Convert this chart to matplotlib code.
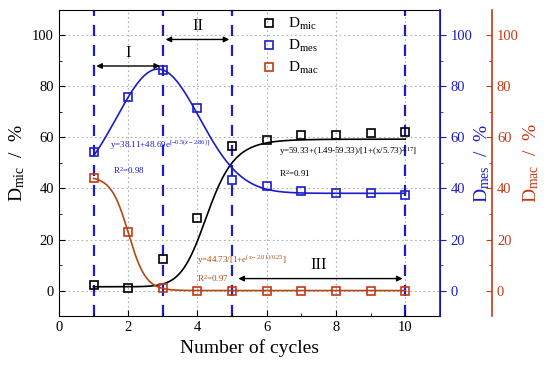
import numpy as np
import matplotlib
matplotlib.use("Agg")
import matplotlib.pyplot as plt

plt.rcParams['font.family'] = ['Liberation Serif', 'DejaVu Serif']
plt.rcParams['mathtext.fontset'] = 'custom'
plt.rcParams['mathtext.rm'] = 'Liberation Serif'
plt.rcParams['mathtext.it'] = 'Liberation Serif:italic'

# measured points
cycles = [1, 2, 3, 4, 5, 6, 7, 8, 9, 10]
d_mic = [2.0, 1.2, 12.2, 28.3, 56.7, 59.0, 61.0, 61.0, 61.8, 62.3]
d_mes = [54.3, 76.0, 86.6, 71.7, 43.3, 41.0, 39.0, 38.2, 38.2, 37.5]
d_mac = [44.0, 23.0, 1.0, 0.0, 0.0, 0.0, 0.0, 0.0, 0.0, 0.0]

# fitted curve parameters (as drawn)
mes_fit = [38.11, 48.69, 2.86, 1.2]      # base, amp, centre, width (gauss)
mic_fit = [1.49, 59.33, 4.3, 11.0]       # A1, A2, x0, p (hill)
mac_fit = [44.73, 2.01, 0.25]            # A, x0, dx (logistic)

stage_lines = [1, 3, 5, 10]

BLUE = '#1c1cc8'
RED = '#c23a18'
BROWN = '#b04a14'

fig = plt.figure(figsize=(5.5, 3.79), dpi=100)
ax = fig.add_axes([0.107, 0.166, 0.693, 0.808])
ax2 = ax.twinx()
ax3 = ax.twinx()
# outward offset is in points: 52 px at 100 dpi
ax3.spines['right'].set_position(('outward', 37.5))

xs = np.linspace(1, 10, 400)
y_mes = mes_fit[0] + mes_fit[1] * np.exp(-0.5 * ((xs - mes_fit[2]) / mes_fit[3]) ** 2)
y_mic = mic_fit[1] + (mic_fit[0] - mic_fit[1]) / (1 + (xs / mic_fit[2]) ** mic_fit[3])
y_mac = mac_fit[0] / (1 + np.exp((xs - mac_fit[1]) / mac_fit[2]))

for a in (ax, ax2, ax3):
    a.set_ylim(-10, 110)
ax.set_xlim(0, 11)

# grid
for gx in [2, 4, 6, 8, 10]:
    ax.axvline(gx, color='#b0b0b0', ls=(0, (1.5, 2.5)), lw=0.8, zorder=0)
for gy in [0, 20, 40, 60, 80, 100]:
    ax.axhline(gy, color='#b0b0b0', ls=(0, (1.5, 2.5)), lw=0.8, zorder=0)

for sx in stage_lines:
    ax.axvline(sx, color=BLUE, ls=(0, (5, 4)), lw=1.6, zorder=1)

ax.plot(xs, y_mic, color='black', lw=1.2, zorder=2)
ax.plot(xs, y_mes, color=BLUE, lw=1.2, zorder=2)
ax.plot(xs, y_mac, color=BROWN, lw=1.2, zorder=2)

h1, = ax.plot(cycles, d_mic, 's', mfc='none', mec='black', ms=5.5, mew=1.2, zorder=3)
h2, = ax.plot(cycles, d_mes, 's', mfc='none', mec=BLUE, ms=5.5, mew=1.2, zorder=3)
h3, = ax.plot(cycles, d_mac, 's', mfc='none', mec=RED, ms=5.5, mew=1.2, zorder=3)

leg = ax.legend([h1, h2, h3], ['D$_{\\rm mic}$', 'D$_{\\rm mes}$', 'D$_{\\rm mac}$'],
                loc='upper left', bbox_to_anchor=(0.5, 1.025), frameon=False,
                fontsize=11, handlelength=0.8, handletextpad=0.8, labelspacing=0.4)

# stage arrows
arrow = dict(arrowstyle='<|-|>', color='black', lw=1.0, mutation_scale=8)
ax.annotate('', xy=(1, 88), xytext=(3, 88), arrowprops=arrow)
ax.text(2, 90, 'I', ha='center', va='bottom', fontsize=12)
ax.annotate('', xy=(3, 98.4), xytext=(5, 98.4), arrowprops=arrow)
ax.text(4, 100.5, 'II', ha='center', va='bottom', fontsize=12)
ax.annotate('', xy=(5.1, 4.7), xytext=(10, 4.7), arrowprops=arrow)
ax.text(7.5, 6.8, 'III', ha='center', va='bottom', fontsize=12)

# fit equations
ax.text(1.47, 57, 'y=38.11+48.69e$^{[-0.5(x-2.86)]}$', color=BLUE, fontsize=6.5, va='center')
ax.text(1.55, 47, 'R$^{2}$=0.98', color=BLUE, fontsize=6.5, va='center')
ax.text(6.36, 54.3, 'y=59.33+(1.49-59.33)/[1+(x/5.73)$^{2.17}$]', color='black', fontsize=6.5, va='center')
ax.text(6.36, 46, 'R$^{2}$=0.91', color='black', fontsize=6.5, va='center')
ax.text(4.0, 11.8, 'y=44.73/[1+e$^{(x-2.01)/0.25}$]', color=BROWN, fontsize=6.5, va='center')
ax.text(4.0, 4.7, 'R$^{2}$=0.97', color=BROWN, fontsize=6.5, va='center')

# axes styling
ax.set_xticks([0, 2, 4, 6, 8, 10])
ax.set_xticks([1, 3, 5, 7, 9], minor=True)
ax.set_yticks([0, 20, 40, 60, 80, 100])
ax.set_yticks([10, 30, 50, 70, 90], minor=True)
ax.tick_params(which='both', direction='in', labelsize=10.5, top=False)
ax.tick_params(which='major', length=4)
ax.tick_params(which='minor', length=2.5)
ax.set_xlabel('Number of cycles', fontsize=14)
ax.set_ylabel('D$_{\\rm mic}$  /  %', fontsize=14, labelpad=4)

ax2.set_yticks([0, 20, 40, 60, 80, 100])
ax2.set_yticks([10, 30, 50, 70, 90], minor=True)
ax2.tick_params(which='both', direction='out', colors=BLUE, labelsize=10.5)
ax2.tick_params(which='major', length=4)
ax2.tick_params(which='minor', length=2.5)
ax2.spines['right'].set_color(BLUE)
ax2.spines['right'].set_linewidth(1.2)
ax2.set_ylabel('D$_{\\rm mes}$  /  %', fontsize=14, color=BLUE, labelpad=0)

ax3.set_yticks([0, 20, 40, 60, 80, 100])
ax3.set_yticks([10, 30, 50, 70, 90], minor=True)
ax3.tick_params(which='both', direction='in', colors=RED, labelsize=10.5)
ax3.tick_params(which='major', length=4)
ax3.tick_params(which='minor', length=2.5)
ax3.spines['right'].set_color(RED)
ax3.spines['right'].set_linewidth(1.2)
ax3.set_ylabel('D$_{\\rm mac}$  /  %', fontsize=14, color=RED, labelpad=2)
for s in ('left', 'top', 'bottom'):
    ax3.spines[s].set_visible(False)
    ax2.spines[s].set_visible(False)

fig.savefig('out.png', dpi=100)
